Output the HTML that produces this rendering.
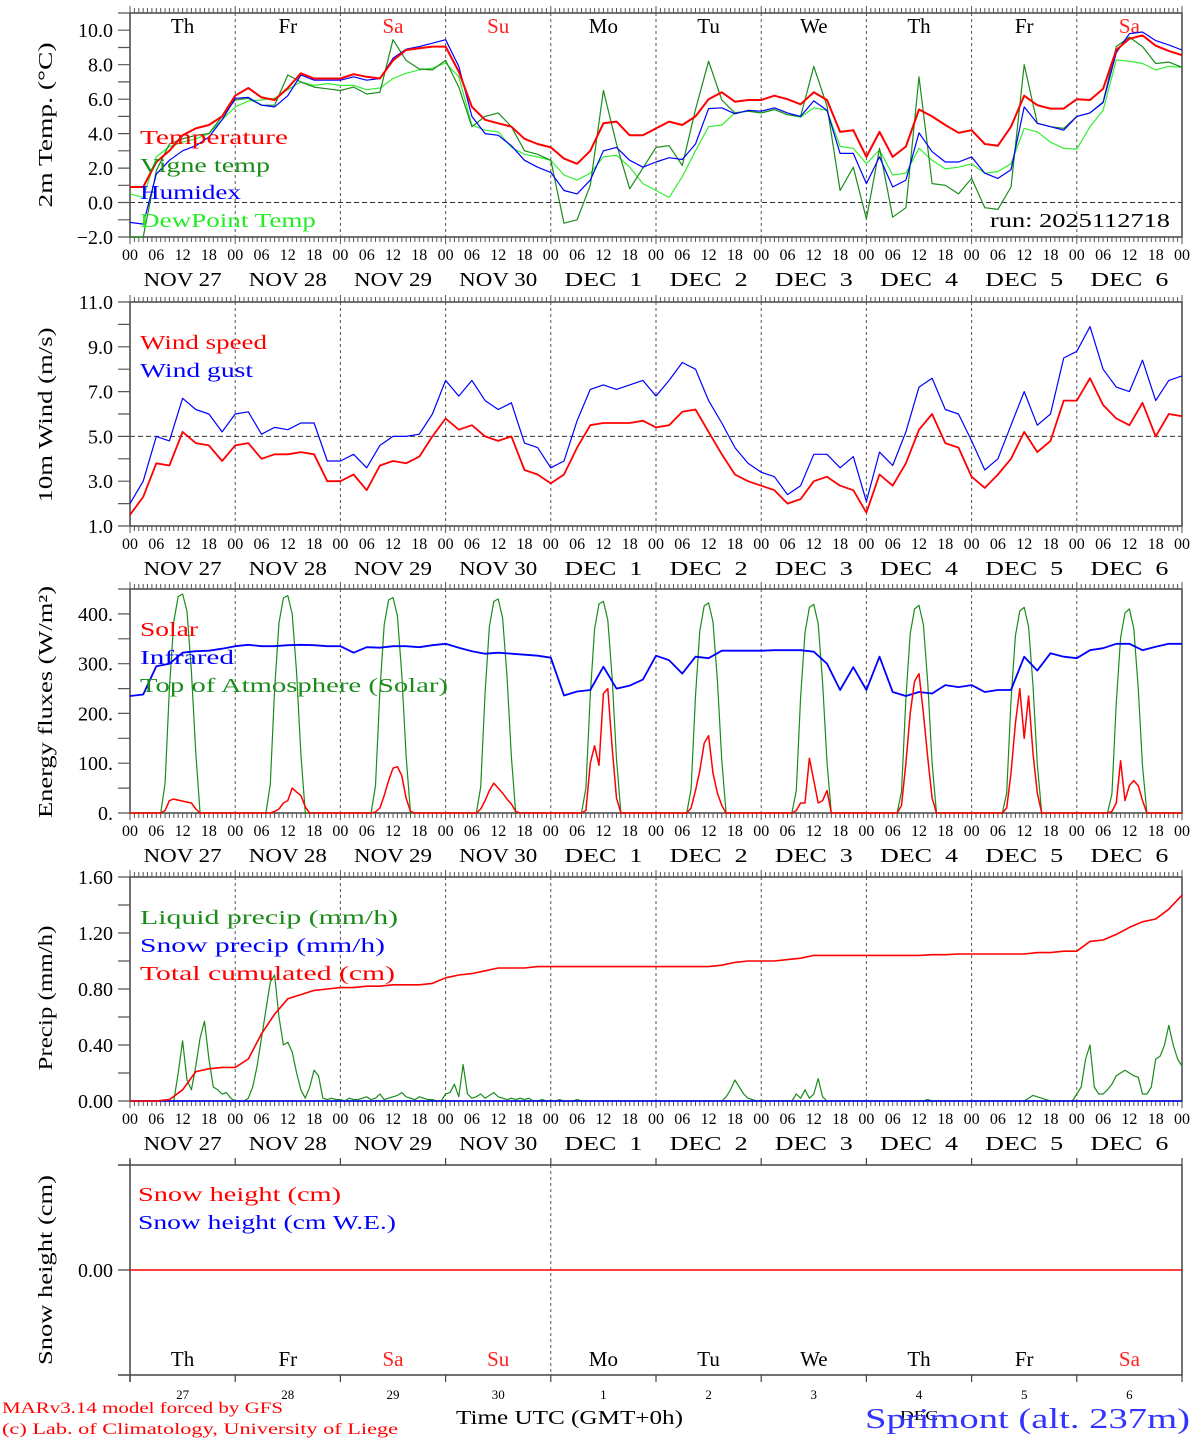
<!DOCTYPE html>
<html><head><meta charset="utf-8"><title>Meteogram Sprimont</title>
<style>
html,body{margin:0;padding:0;background:#fff;}
svg{display:block;font-family:"Liberation Serif","DejaVu Serif",serif;}
</style></head>
<body>
<svg id="chart" xmlns="http://www.w3.org/2000/svg" width="1194" height="1440" viewBox="0 0 1194 1440">
<rect x="0" y="0" width="1194" height="1440" fill="#fff"/>
<text transform="translate(52,125) rotate(-90)" text-anchor="middle" font-size="20" textLength="165" lengthAdjust="spacingAndGlyphs">2m Temp. (°C)</text>
<text transform="translate(52,415) rotate(-90)" text-anchor="middle" font-size="20" textLength="175" lengthAdjust="spacingAndGlyphs">10m Wind (m/s)</text>
<text transform="translate(52,702) rotate(-90)" text-anchor="middle" font-size="20" textLength="232" lengthAdjust="spacingAndGlyphs">Energy fluxes (W/m²)</text>
<text transform="translate(52,998) rotate(-90)" text-anchor="middle" font-size="20" textLength="145" lengthAdjust="spacingAndGlyphs">Precip (mm/h)</text>
<text transform="translate(52,1270) rotate(-90)" text-anchor="middle" font-size="20" textLength="190" lengthAdjust="spacingAndGlyphs">Snow height (cm)</text>
<g id="marks"></g>
<text x="140" y="144" font-size="20" fill="#ff0000" textLength="148" lengthAdjust="spacingAndGlyphs">Temperature</text>
<text x="140" y="172" font-size="20" fill="#1a8c1a" textLength="130" lengthAdjust="spacingAndGlyphs">Vigne temp</text>
<text x="140" y="199" font-size="20" fill="#0000ff" textLength="101" lengthAdjust="spacingAndGlyphs">Humidex</text>
<text x="140" y="227" font-size="20" fill="#22ee22" textLength="176" lengthAdjust="spacingAndGlyphs">DewPoint Temp</text>
<text x="990" y="227" font-size="20" fill="#000" textLength="180" lengthAdjust="spacingAndGlyphs">run: 2025112718</text>
<text x="140" y="349" font-size="20" fill="#ff0000" textLength="127" lengthAdjust="spacingAndGlyphs">Wind speed</text>
<text x="140" y="377" font-size="20" fill="#0000ff" textLength="113" lengthAdjust="spacingAndGlyphs">Wind gust</text>
<text x="140" y="636" font-size="20" fill="#ff0000" textLength="58" lengthAdjust="spacingAndGlyphs">Solar</text>
<text x="140" y="664" font-size="20" fill="#0000ff" textLength="94" lengthAdjust="spacingAndGlyphs">Infrared</text>
<text x="140" y="692" font-size="20" fill="#1a8c1a" textLength="308" lengthAdjust="spacingAndGlyphs">Top of Atmosphere (Solar)</text>
<text x="140" y="924" font-size="20" fill="#1a8c1a" textLength="258" lengthAdjust="spacingAndGlyphs">Liquid precip (mm/h)</text>
<text x="140" y="952" font-size="20" fill="#0000ff" textLength="245" lengthAdjust="spacingAndGlyphs">Snow precip (mm/h)</text>
<text x="140" y="980" font-size="20" fill="#ff0000" textLength="255" lengthAdjust="spacingAndGlyphs">Total cumulated (cm)</text>
<text x="138" y="1201" font-size="20" fill="#ff0000" textLength="203" lengthAdjust="spacingAndGlyphs">Snow height (cm)</text>
<text x="138" y="1229" font-size="20" fill="#0000ff" textLength="258" lengthAdjust="spacingAndGlyphs">Snow height (cm W.E.)</text>
<text x="456" y="1424" font-size="20" fill="#000" textLength="227" lengthAdjust="spacingAndGlyphs">Time UTC (GMT+0h)</text>
<text x="2" y="1413" font-size="16" fill="#ff0000" textLength="281" lengthAdjust="spacingAndGlyphs">MARv3.14 model forced by GFS</text>
<text x="2" y="1434" font-size="16" fill="#ff0000" textLength="396" lengthAdjust="spacingAndGlyphs">(c) Lab. of Climatology, University of Liege</text>
<text x="900" y="1420" font-size="14" fill="#000" textLength="38" lengthAdjust="spacingAndGlyphs">DEC</text>
<text x="865" y="1428" font-size="29" fill="#3333ff" textLength="325" lengthAdjust="spacingAndGlyphs">Sprimont (alt. 237m)</text>
</svg>
<script>
const dayNames = ['Th','Fr','Sa','Su','Mo','Tu','We','Th','Fr','Sa'];
const weekendIdx = [2,3,9];
const dateLabels = ['NOV 27','NOV 28','NOV 29','NOV 30','DEC  1','DEC  2','DEC  3','DEC  4','DEC  5','DEC  6'];
const dayNumbers = ['27','28','29','30','1','2','3','4','5','6'];
const hourLabels = ['00','06','12','18'];
const temperature = [0.9,0.9,2.35,3.0,3.9,4.3,4.5,5.0, 6.2,6.65,6.1,5.95,6.65,7.5,7.2,7.2, 7.2,7.45,7.3,7.2,8.25,8.85,8.95,9.05, 9.05,7.6,5.55,4.8,4.6,4.4,3.7,3.4, 3.2,2.55,2.25,3.0,4.6,4.7,3.9,3.9, 4.3,4.7,4.5,5.0,6.0,6.4,5.85,5.95, 5.95,6.2,6.0,5.7,6.4,5.95,4.1,4.2, 2.65,4.1,2.65,3.25,5.4,5.0,4.5,4.05, 4.2,3.4,3.3,4.4,6.2,5.65,5.45,5.45, 6.0,5.95,6.6,8.85,9.5,9.7,9.1,8.8,8.55];
const vigneTemp = [-2.0,-2.0,1.85,3.4,3.7,3.9,4.0,5.0, 5.95,6.05,5.65,5.65,7.4,7.0,6.7,6.6, 6.5,6.7,6.3,6.4,9.45,8.25,7.75,7.7, 8.25,6.7,4.4,5.0,5.2,4.4,3.0,2.8, 2.45,-1.2,-1.0,1.0,6.5,3.4,0.8,2.0, 3.2,3.3,2.15,5.4,8.2,5.95,5.2,5.3, 5.2,5.4,5.1,5.0,7.9,5.6,0.7,2.05, -0.95,3.15,-0.85,-0.3,7.3,1.1,1.0,0.5, 1.4,-0.3,-0.4,0.9,8.0,4.6,4.4,4.3, 5.0,5.2,5.84,9.05,9.6,9.05,8.07,8.15,7.85];
const humidex = [-1.15,-1.25,1.65,2.45,3.0,3.3,3.8,4.8, 6.05,6.1,5.65,5.55,6.2,7.4,7.1,7.1, 7.1,7.3,7.1,7.2,8.37,8.9,9.05,9.25, 9.45,7.9,5.0,4.0,3.9,3.3,2.45,2.05, 1.75,0.7,0.5,1.3,3.0,3.2,2.45,2.05, 2.35,2.6,2.5,3.4,5.45,5.5,5.15,5.35, 5.3,5.5,5.2,5.0,5.9,5.35,2.85,2.85, 1.1,2.65,0.9,1.3,4.05,2.95,2.35,2.35, 2.65,1.7,1.4,1.9,5.55,4.6,4.4,4.2, 5.0,5.2,5.8,8.7,9.8,9.9,9.4,9.15,8.85];
const dewPoint = [0.5,0.3,2.65,3.25,3.5,3.7,4.0,4.8, 5.55,5.9,5.95,6.05,6.55,7.0,6.8,6.9, 6.8,6.8,6.55,6.65,7.2,7.5,7.7,7.8, 8.1,7.3,4.5,4.2,4.1,3.2,2.8,2.65, 2.45,1.6,1.3,1.7,2.65,2.75,2.05,1.1, 0.7,0.3,1.5,3.0,4.4,4.5,5.2,5.3, 5.2,5.4,5.1,4.95,5.5,5.35,3.25,3.15, 2.25,3.05,1.6,1.7,3.15,2.45,1.95,2.05, 2.25,1.7,1.8,2.25,4.3,4.1,3.5,3.15, 3.1,4.4,5.35,8.27,8.2,8.07,7.7,7.9,7.85];
const windSpeed = [1.5,2.3,3.8,3.7,5.2,4.7,4.6,3.9, 4.6,4.7,4.0,4.2,4.2,4.3,4.2,3.0, 3.0,3.3,2.6,3.7,3.9,3.8,4.1,5.0, 5.8,5.3,5.5,5.0,4.8,5.0,3.5,3.3, 2.9,3.3,4.5,5.5,5.6,5.6,5.6,5.7, 5.4,5.5,6.1,6.2,5.2,4.2,3.3,3.0, 2.8,2.6,2.0,2.2,3.0,3.2,2.8,2.6, 1.6,3.3,2.8,3.8,5.3,6.0,4.7,4.5, 3.2,2.7,3.3,4.0,5.2,4.3,4.8,6.6, 6.6,7.6,6.4,5.8,5.5,6.5,5.0,6.0,5.9];
const windGust = [2.0,3.0,5.0,4.8,6.7,6.2,6.0,5.2, 6.0,6.1,5.1,5.4,5.3,5.6,5.6,3.9, 3.9,4.2,3.6,4.6,5.0,5.0,5.1,6.0, 7.5,6.8,7.5,6.6,6.2,6.5,4.7,4.5, 3.6,3.9,5.7,7.1,7.3,7.1,7.3,7.5, 6.8,7.5,8.3,8.0,6.6,5.6,4.5,3.8, 3.4,3.2,2.4,2.8,4.2,4.2,3.6,4.1, 2.1,4.3,3.7,5.2,7.2,7.6,6.2,6.0, 4.8,3.5,4.0,5.5,7.0,5.5,6.0,8.5, 8.8,9.9,8.0,7.2,7.0,8.4,6.6,7.5,7.7];
const infrared = [235,238,295,300,322,325,326,330, 335,338,335,335,337,338,337,335, 335,322,333,332,335,335,333,337, 340,332,325,320,322,320,318,316, 312,236,244,247,294,250,256,268, 316,307,280,314,311,326,326,326, 326,327,327,327,324,300,247,293, 247,314,243,235,243,240,257,253, 257,243,247,247,314,286,321,314, 311,327,331,340,340,327,334,340,340];
const totalCumulated = [0,0,0,0.01,0.08,0.21,0.23,0.24, 0.24,0.30,0.48,0.62,0.73,0.76,0.79,0.80, 0.81,0.81,0.82,0.82,0.83,0.83,0.83,0.84, 0.88,0.90,0.91,0.93,0.95,0.95,0.95,0.96, 0.96,0.96,0.96,0.96,0.96,0.96,0.96,0.96, 0.96,0.96,0.96,0.96,0.96,0.97,0.99,1.00, 1.00,1.00,1.01,1.02,1.04,1.04,1.04,1.04, 1.04,1.04,1.04,1.04,1.04,1.045,1.045,1.05, 1.05,1.05,1.05,1.05,1.05,1.06,1.06,1.07, 1.07,1.14,1.15,1.19,1.24,1.28,1.30,1.37,1.47];
const solarDay = [
 [0,0,5,25,28,26,24,22,20,8,0,0],
 [0,0,0,3,8,20,25,50,42,35,12,0],
 [0,0,2,10,35,65,90,93,75,30,3,0],
 [0,0,8,25,45,60,50,40,28,18,3,0],
 [0,0,5,100,135,96,240,250,130,30,0,0],
 [0,0,10,45,85,140,155,80,40,15,0,0],
 [0,0,5,20,20,110,65,20,25,45,0,0],
 [0,0,15,100,200,265,280,200,110,30,0,0],
 [0,0,10,80,180,250,150,235,120,40,0,0],
 [0,0,3,20,105,25,55,65,55,25,0,0]];
const toaDay = [
 [0,0,60,250,385,435,440,405,285,120,0,0],
 [0,0,58,248,382,432,437,400,282,118,0,0],
 [0,0,55,245,378,428,433,396,278,115,0,0],
 [0,0,52,242,375,425,430,392,275,112,0,0],
 [0,0,50,238,370,420,425,388,270,108,0,0],
 [0,0,48,235,366,416,422,384,266,105,0,0],
 [0,0,45,232,362,413,419,380,262,102,0,0],
 [0,0,43,230,360,410,417,378,260,100,0,0],
 [0,0,40,226,356,406,413,374,256,98,0,0],
 [0,0,38,222,352,402,410,370,252,95,0,0]];
const liquidDay = [
 [0,0,0,0,0,0,0,0,0,0,0,0.2,0.43,0.15,0.08,0.25,0.45,0.57,0.3,0.1,0.08,0.05,0.06,0.02],
 [0,0,0,0.02,0.1,0.25,0.45,0.65,0.85,0.9,0.6,0.4,0.42,0.35,0.2,0.08,0.02,0.1,0.22,0.18,0.02,0.01,0.02,0.01],
 [0.01,0,0.02,0.01,0.01,0.02,0.03,0.01,0.02,0.05,0.01,0.02,0.03,0.04,0.06,0.03,0.02,0.01,0.03,0.02,0.01,0.01,0,0],
 [0.05,0.06,0.12,0.03,0.26,0.05,0.02,0.03,0.05,0.02,0.04,0.06,0.03,0.02,0.01,0.02,0.01,0.02,0.01,0.02,0,0,0.01,0],
 [0,0,0.01,0,0,0,0.01,0,0,0,0,0,0,0,0,0,0,0,0,0,0,0,0,0],
 [0,0,0,0,0,0,0,0,0,0,0,0,0,0,0,0,0.03,0.08,0.15,0.1,0.05,0.02,0.01,0],
 [0,0,0,0,0,0,0,0,0.05,0.02,0.08,0.02,0.05,0.16,0.03,0,0,0,0,0,0,0,0,0],
 [0,0,0,0,0,0,0,0,0,0,0,0,0,0,0.01,0,0,0,0,0,0,0,0,0],
 [0,0,0,0,0,0,0,0,0,0,0,0,0,0.02,0.04,0.03,0.02,0.01,0,0,0,0,0,0],
 [0.05,0.1,0.3,0.4,0.1,0.05,0.05,0.08,0.12,0.18,0.2,0.22,0.2,0.18,0.17,0.05,0.05,0.1,0.3,0.32,0.4,0.54,0.4,0.3]];
const liquidLast = 0.25;
const yTicksTemp = [-2,0,2,4,6,8,10];
const yTicksWind = [1,3,5,7,9,11];
const yTicksEnergy = [0,100,200,300,400];
const yTicksPrecip = [0,0.4,0.8,1.2,1.6];

const NS = 'http://www.w3.org/2000/svg';
const svg = document.getElementById('marks');
const X0 = 130, X1 = 1182, HOURS = 240;
const xh = h => X0 + h * (X1 - X0) / HOURS;
const P1 = {t:13, b:237, min:-2, max:11};
const P2 = {t:302, b:526, min:1, max:11};
const P3 = {t:589, b:813, min:0, max:450};
const P4 = {t:877, b:1101, min:0, max:1.6};
const P5 = {t:1165, b:1375, min:-1, max:1};
const yv = (p, v) => p.b - (v - p.min) / (p.max - p.min) * (p.b - p.t);

function mk(tag, attrs) {
  const e = document.createElementNS(NS, tag);
  for (const k in attrs) e.setAttribute(k, attrs[k]);
  svg.appendChild(e);
  return e;
}
function tx(x, y, s, size, anchor, fill) {
  const e = mk('text', {x:x, y:y, 'font-size':size, 'text-anchor':anchor, fill:fill || '#000'});
  e.textContent = s;
  return e;
}

function axes(p, ticks, fmt, minorStep, dashY, key) {
  for (let d = 1; d < 10; d++) {
    const l = mk('line', {x1:xh(d*24), x2:xh(d*24), y1:p.t, y2:p.b, stroke:'#555', 'stroke-width':1, 'stroke-dasharray':'3,3'});
    
    
  }
  if (dashY !== null) {
    const l = mk('line', {x1:X0, x2:X1, y1:yv(p,dashY), y2:yv(p,dashY), stroke:'#333', 'stroke-width':1, 'stroke-dasharray':'5,3'});
    
    
  }
  const fr = mk('rect', {x:X0, y:p.t, width:X1-X0, height:p.b-p.t, fill:'none', stroke:'#444', 'stroke-width':1.5});
  
  
  let d = '';
  for (let h = 0; h <= HOURS; h++) {
    const x = xh(h).toFixed(1);
    const len = (h % 24 === 0) ? 7 : 5;
    d += `M${x},${p.t}v${-len}M${x},${p.b}v${len}`;
  }
  const tk = mk('path', {d:d, stroke:'#555', 'stroke-width':1, fill:'none'});
  
  
  for (let h = 0; h <= HOURS; h += 6) {
    const t = tx(xh(h), p.b + 23, hourLabels[(h/6)%4], 16, 'middle');
    
    
  }
  for (let i = 0; i < 10; i++) {
    const t = tx(xh(i*24+12), p.b + 49, dateLabels[i], 20, 'middle');
    t.setAttribute('textLength', 78);
    t.setAttribute('lengthAdjust', 'spacingAndGlyphs');
    t.setAttribute('style', 'white-space:pre');
    
    
  }
  let yd = '';
  for (let v = p.min; v <= p.max + 1e-9; v += minorStep) {
    yd += `M118,${yv(p,v).toFixed(1)}H130`;
  }
  const yt = mk('path', {d:yd, stroke:'#555', 'stroke-width':1.2, fill:'none'});
  
  
  ticks.forEach(v => {
    const t = tx(113, yv(p,v) + 7, fmt(v), 20, 'end');
    
    
  });
}

function series(p, vals, step, color, w, name) {
  const pts = vals.map((v, i) => xh(i*step).toFixed(1) + ',' + yv(p, v).toFixed(1)).join(' ');
  const el = mk('polyline', {points:pts, fill:'none', stroke:color, 'stroke-width':w, 'stroke-linejoin':'round'});
  
  
}
function fromWindows(win, start) {
  const full = new Array(HOURS + 1).fill(0);
  win.forEach((arr, d) => arr.forEach((v, j) => { full[d*24 + start + j] = v; }));
  return full;
}

axes(P1, yTicksTemp, v => (v < 0 ? '\u2212' : '') + Math.abs(v).toFixed(1), 1, 0, 'temp-panel');
for (let i = 0; i < 10; i++) {
  const t = tx(xh(i*24+12), 33, dayNames[i], 21, 'middle', weekendIdx.includes(i) ? '#ff2020' : '#000');
  
  
}
series(P1, dewPoint, 3, '#33ee33', 1.2, 'dewpoint-line');
series(P1, vigneTemp, 3, '#1a8c1a', 1.2, 'vigne-temp-line');
series(P1, humidex, 3, '#0000ff', 1.2, 'humidex-line');
series(P1, temperature, 3, '#ff0000', 2, 'temperature-line');

axes(P2, yTicksWind, v => v.toFixed(1), 1, 5, 'wind-panel');
series(P2, windGust, 3, '#0000ff', 1.2, 'wind-gust-line');
series(P2, windSpeed, 3, '#ff0000', 1.8, 'wind-speed-line');

axes(P3, yTicksEnergy, v => v.toFixed(0) + '.', 50, null, 'energy-panel');
series(P3, fromWindows(toaDay, 6), 1, '#1a8c1a', 1.2, 'toa-solar-line');
series(P3, infrared, 3, '#0000ff', 1.8, 'infrared-line');
series(P3, fromWindows(solarDay, 6), 1, '#ff0000', 1.5, 'solar-line');

axes(P4, yTicksPrecip, v => v.toFixed(2), 0.2, null, 'precip-panel');
const liquid = [].concat(...liquidDay, [liquidLast]);
series(P4, liquid, 1, '#1a8c1a', 1.2, 'liquid-precip-line');
series(P4, new Array(HOURS + 1).fill(0), 1, '#0000ff', 1.5, 'snow-precip-line');
series(P4, totalCumulated, 3, '#ff0000', 1.6, 'total-cumulated-line');

(function(){
  const p = P5;
  const l = mk('line', {x1:xh(96), x2:xh(96), y1:p.t, y2:p.b, stroke:'#555', 'stroke-width':1, 'stroke-dasharray':'3,3'});
  
  
  const fr = mk('path', {d:`M118,${p.t}H${X1}V${p.b}H118M${X0},1160V1382`, stroke:'#444', 'stroke-width':1.5, fill:'none'});
  
  
  let d = '';
  for (let k = 0; k <= 10; k++) { const x = xh(k*24).toFixed(1); d += `M${x},${p.t}v-7M${x},${p.b}v7`; }
  d += `M118,${yv(p,0)}H130`;
  const tk = mk('path', {d:d, stroke:'#444', 'stroke-width':1.2, fill:'none'});
  
  
  const yl = tx(113, yv(p,0) + 7, '0.00', 20, 'end');
  
  
  series(p, new Array(HOURS + 1).fill(0), 1, '#ff0000', 1.5, 'snow-height-line');
  for (let i = 0; i < 10; i++) {
    const t = tx(xh(i*24+12), 1366, dayNames[i], 21, 'middle', weekendIdx.includes(i) ? '#ff2020' : '#000');
    
    
    const n = tx(xh(i*24+12), 1399, dayNumbers[i], 13, 'middle');
    
    
  }
})();
</script>
</body></html>
